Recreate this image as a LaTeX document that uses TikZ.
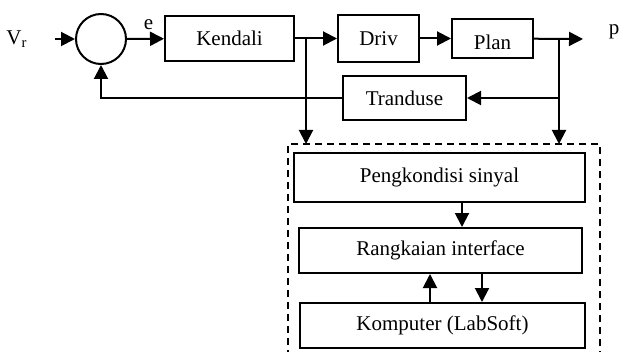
\documentclass[tikz,border=0pt]{standalone}
\usepackage{fontspec}
\setmainfont{Liberation Serif}
\usetikzlibrary{arrows.meta,positioning}

\begin{document}
\begin{tikzpicture}[
            x=0.5pt, y=-0.5pt,
            block/.style={draw, line width=1pt, minimum width=64.5pt, minimum height=22.5pt, align=center, inner sep=0pt, font=\fontsize{10.5}{12}\selectfont},
            labblock/.style={block, minimum width=142.5pt},
            sumnode/.style={draw, circle, line width=1pt, minimum size=25pt, inner sep=0pt},
            groupbox/.style={draw, line width=1pt, dash pattern=on 3.5pt off 2.5pt, outer sep=0pt, inner sep=0pt},
            arrow/.style={-{Triangle[length=7pt,width=7pt]}, line width=1pt},
            txt/.style={inner sep=0pt, font=\fontsize{10.5}{12}\selectfont}
        ]
        \useasboundingbox (0,0) rectangle (619,352);

        % Main loop
        \node[sumnode] (sum) at (101,39) {};
        \node[block] (kendali) at (229.5,38.5) {Kendali};
        \node[block, minimum width=40.5pt, minimum height=23.5pt, right=21pt of kendali] (driv) {Driv};
        \node[block, minimum width=40.5pt, minimum height=19.5pt, right=15.5pt of driv] (plan) {\raisebox{-5.5pt}[0pt][0pt]{Plan}};
        \node[block, minimum width=61.5pt, minimum height=22pt] (tranduse) at (404.5,98) {Tranduse};

        % Labels
        \node[txt] (vr) at (17,39) {V\textsubscript{r}};
        \node[txt] (e) at (148.5,25) {e};
        \node[txt] (p) at (614,32) {p};

        % Branch points
        \coordinate (in) at (55,39);
        \coordinate (j1) at (306,39);
        \coordinate (j2) at (559,39);
        \coordinate (out) at (583,39);

        % Data acquisition part
        \node[groupbox, minimum width=156pt, minimum height=113pt, anchor=north west] (labbox) at (288,144) {};
        \node[labblock, minimum width=145.5pt, minimum height=24.5pt] (sinyal) at (439.5,177.5) {Pengkondisi sinyal};
        \node[labblock, minimum width=141.5pt] (interface) at (440.5,250.5) {Rangkaian interface};
        \node[labblock] (komputer) at (442.5,325.5) {Komputer (LabSoft)};

        % Main path arrows
        \draw[arrow] (in) -- (sum);
        \draw[arrow] (sum) -- (kendali);
        \draw[arrow] (kendali) -- (driv);
        \draw[arrow] (driv) -- (plan);
        \draw[arrow] (plan) -- (out);

        % Feedback arrows
        \draw[arrow] (j2) |- (tranduse);
        \draw[arrow] (tranduse) -| (sum);

        % Measurement arrows
        \draw[arrow] (j1) -- (j1 |- labbox.north);
        \draw[arrow] (j2) -- (j2 |- labbox.north);
        \draw[arrow] ([xshift=11.25pt]sinyal.south) -- ([xshift=11.25pt]sinyal.south |- interface.north);
        \draw[arrow] ([xshift=-6.25pt]komputer.north) -- ([xshift=-6.25pt]komputer.north |- interface.south);
        \draw[arrow] ([xshift=20.75pt]interface.south) -- ([xshift=20.75pt]interface.south |- komputer.north);
    \end{tikzpicture}
\end{document}
